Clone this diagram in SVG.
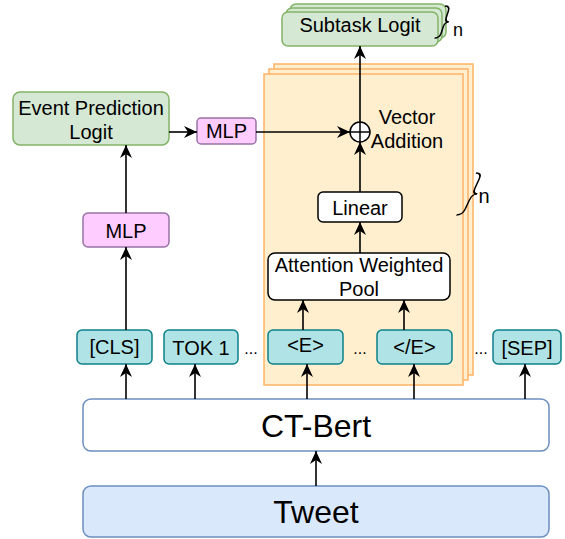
<svg xmlns="http://www.w3.org/2000/svg" width="565" height="539" viewBox="0 0 565 539">
<defs>
<marker id="ah" markerUnits="userSpaceOnUse" viewBox="0 0 13 12" refX="13" refY="6" markerWidth="13" markerHeight="12" orient="auto">
<path d="M0,0 L13,6 L0,12 L4,6 z" fill="#000"/>
</marker>
<style>
text{font-family:"Liberation Sans",Arial,sans-serif;fill:#000;text-anchor:middle}
.t20{font-size:20px}
.t32{font-size:32px}
.green{fill:#d5e8d4;stroke:#82b366;stroke-width:1.5}
.pink{fill:#ffccff;stroke:#9673a6;stroke-width:1.5}
.teal{fill:#b0e3e6;stroke:#0e8088;stroke-width:1.5}
.white{fill:#fff;stroke:#000;stroke-width:1.5}
.blue{fill:#dae8fc;stroke:#6c8ebf;stroke-width:1.5}
.bwhite{fill:#fff;stroke:#6c8ebf;stroke-width:1.5}
.orange{fill:#ffefcf;stroke:#ffb366;stroke-width:1.5}
.conn line{stroke:#000;stroke-width:1.6;marker-end:url(#ah)}
.brace{fill:none;stroke:#000;stroke-width:1.6}
</style>
</defs>

<g id="panels">
<rect class="orange" x="274" y="64" width="199" height="311"/>
<rect class="orange" x="269" y="69" width="199" height="311"/>
<rect class="orange" x="264" y="74" width="199" height="311"/>
<path class="brace" transform="translate(479,173) skewX(-25)" d="M-3,0 Q3,0 3,6 L3,15 Q3,21 8,21 Q3,21 3,27 L3,36 Q3,42 -3,42"/>
<text class="t20" x="484" y="203">n</text>
</g>

<g id="subtask">
<rect class="green" x="290" y="4" width="156" height="34" rx="6"/>
<rect class="green" x="286" y="8" width="156" height="34" rx="6"/>
<rect class="green" x="282" y="12" width="156" height="34" rx="6"/>
<text class="t20" x="360" y="32">Subtask Logit</text>
<path class="brace" transform="translate(448,6) skewX(-18)" d="M-3,0 Q2,0 2,5 L2,11 Q2,16 6,16 Q2,16 2,21 L2,27 Q2,32 -3,32"/>
<text x="458" y="36" style="font-size:18px">n</text>
</g>

<g id="event-logit">
<rect class="green" x="13" y="92" width="156" height="53" rx="7"/>
<text class="t20" x="91" y="115">Event Prediction</text>
<text class="t20" x="91" y="139">Logit</text>
</g>

<g id="mlp-right">
<rect class="pink" x="197" y="118" width="59" height="26" rx="4"/>
<text class="t20" x="226.5" y="138">MLP</text>
</g>

<g id="mlp-left">
<rect class="pink" x="83" y="213" width="86" height="34" rx="5"/>
<text class="t20" x="126" y="238">MLP</text>
</g>

<g id="vector-addition">
<circle cx="360" cy="132" r="10" fill="#fff" stroke="#000" stroke-width="1.5"/>
<line x1="350" y1="132" x2="370" y2="132" stroke="#000" stroke-width="1.5"/>
<line x1="360" y1="122" x2="360" y2="142" stroke="#000" stroke-width="1.5"/>
<text class="t20" x="407" y="124">Vector</text>
<text class="t20" x="407" y="148">Addition</text>
</g>

<g id="linear">
<rect class="white" x="318" y="192" width="84" height="30" rx="5"/>
<text class="t20" x="360" y="215">Linear</text>
</g>

<g id="attention-pool">
<rect class="white" x="268" y="253" width="182" height="47" rx="7"/>
<text class="t20" x="359" y="272">Attention Weighted</text>
<text class="t20" x="359" y="296">Pool</text>
</g>

<g id="tok-cls">
<rect class="teal" x="77" y="330" width="75" height="34" rx="5"/>
<text class="t20" x="114.5" y="354">[CLS]</text>
</g>
<g id="tok-1">
<rect class="teal" x="164" y="330" width="74" height="34" rx="5"/>
<text class="t20" x="201" y="355">TOK 1</text>
</g>
<g id="tok-e">
<rect class="teal" x="268" y="330" width="75" height="34" rx="5"/>
<text class="t20" x="305.5" y="352">&lt;E&gt;</text>
</g>
<g id="tok-ee">
<rect class="teal" x="377" y="330" width="75" height="34" rx="5"/>
<text class="t20" x="414.5" y="354">&lt;/E&gt;</text>
</g>
<g id="tok-sep">
<rect class="teal" x="493" y="330" width="68" height="34" rx="5"/>
<text class="t20" x="527" y="355">[SEP]</text>
</g>
<g id="dots">
<text x="251" y="354" style="font-size:16px">...</text>
<text x="360" y="354" style="font-size:16px">...</text>
<text x="481" y="354" style="font-size:16px">...</text>
</g>

<g id="ct-bert">
<rect class="bwhite" x="83" y="399" width="466" height="52" rx="8"/>
<text class="t32" x="316" y="437">CT-Bert</text>
</g>

<g id="tweet">
<rect class="blue" x="83" y="486" width="466" height="51" rx="8"/>
<text class="t32" x="316" y="523">Tweet</text>
</g>

<g class="conn" id="connectors">
<line x1="126" y1="399" x2="126" y2="364"/>
<line x1="195" y1="399" x2="195" y2="364"/>
<line x1="307" y1="399" x2="307" y2="364"/>
<line x1="414" y1="399" x2="414" y2="364"/>
<line x1="525" y1="399" x2="525" y2="364"/>
<line x1="316" y1="486" x2="316" y2="451"/>
<line x1="126" y1="330" x2="126" y2="247"/>
<line x1="126" y1="213" x2="126" y2="145"/>
<line x1="169" y1="132" x2="197" y2="132"/>
<line x1="256" y1="132" x2="350" y2="132"/>
<line x1="303" y1="330" x2="303" y2="300"/>
<line x1="404" y1="330" x2="404" y2="300"/>
<line x1="360" y1="253" x2="360" y2="222"/>
<line x1="360" y1="192" x2="360" y2="142"/>
<line x1="360" y1="122" x2="360" y2="46"/>
</g>
</svg>
